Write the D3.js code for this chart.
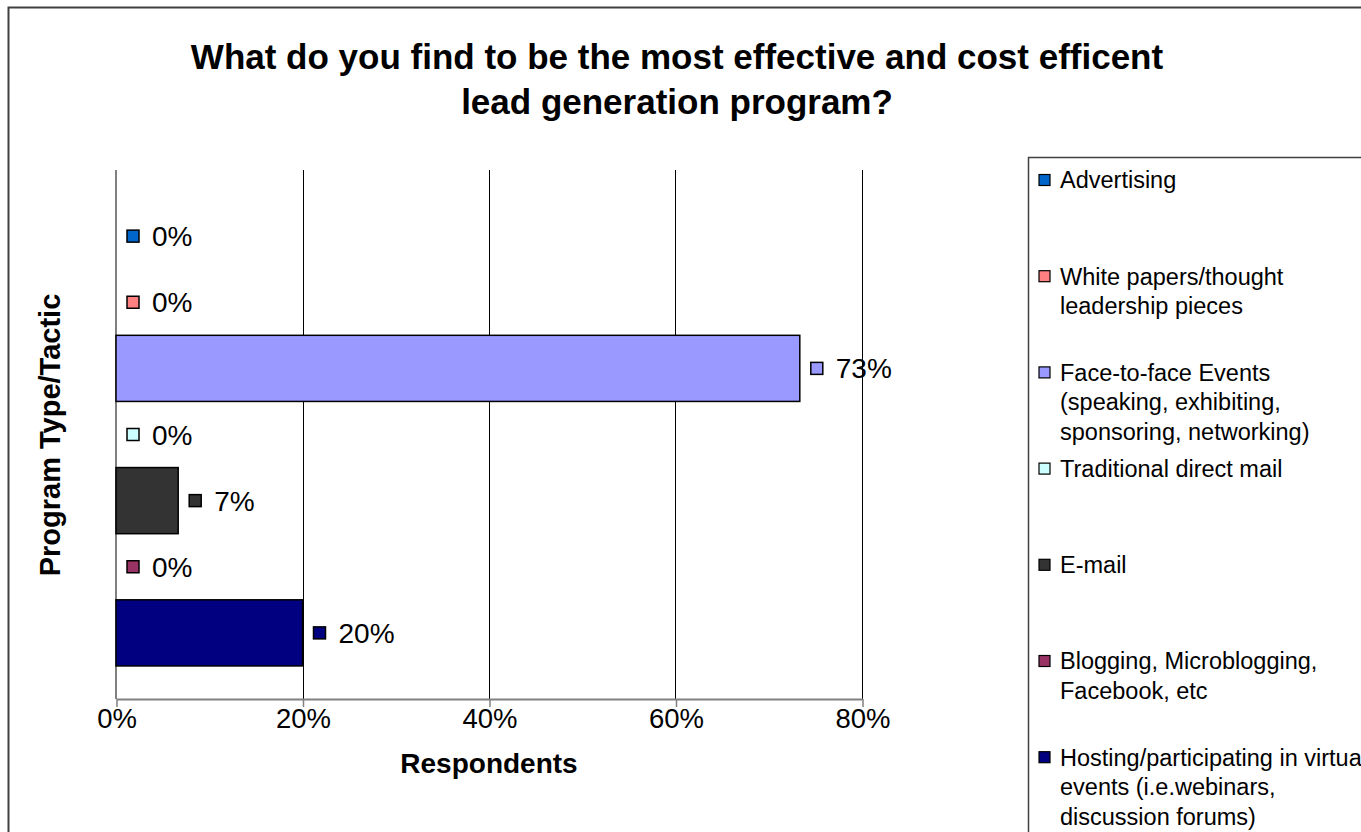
<!DOCTYPE html>
<html>
<head>
<meta charset="utf-8">
<script src="https://cdn.jsdelivr.net/npm/d3@7/dist/d3.min.js"></script>
<style>
html,body{margin:0;padding:0;background:#fff;}
svg{display:block;font-family:Arial,"Liberation Sans",sans-serif;}
</style>
</head>
<body>
<svg id="chart" width="1361" height="832"></svg>
<script>
// ---- data ----
const categories = [
  "Advertising",
  "White papers/thought leadership pieces",
  "Face-to-face Events (speaking, exhibiting, sponsoring, networking)",
  "Traditional direct mail",
  "E-mail",
  "Blogging, Microblogging, Facebook, etc",
  "Hosting/participating in virtual events (i.e.webinars, discussion forums)"
];
const values = [0, 0, 0.7333, 0, 0.0667, 0, 0.2];
const valueLabels = ["0%", "0%", "73%", "0%", "7%", "0%", "20%"];
const colors = ["#0066CC", "#FF8080", "#9999FF", "#CCFFFF", "#333333", "#993366", "#000080"];
const legendLines = [
  ["Advertising"],
  ["White papers/thought", "leadership pieces"],
  ["Face-to-face Events", "(speaking, exhibiting,", "sponsoring, networking)"],
  ["Traditional direct mail"],
  ["E-mail"],
  ["Blogging, Microblogging,", "Facebook, etc"],
  ["Hosting/participating in virtual", "events (i.e.webinars,", "discussion forums)"]
];
const xTicks = [0, 0.2, 0.4, 0.6, 0.8];
const titleLines = ["What do you find to be the most effective and cost efficent", "lead generation program?"];
const xTitle = "Respondents";
const yTitle = "Program Type/Tactic";

// ---- layout ----
const svg = d3.select("#chart");
const plot = {left: 116, right: 862, top: 170, bottom: 699};

// outer border
svg.append("rect").attr("x", 8.5).attr("y", 7.5).attr("width", 1400).attr("height", 900)
  .attr("fill", "none").attr("stroke", "#404040").attr("stroke-width", 2);

const x = d3.scaleLinear().domain([0, 0.8]).range([plot.left, plot.right]);
const step = (plot.bottom - plot.top) / (categories.length + 1);
const y = d3.scaleBand().domain(categories)
  .range([plot.top + step / 2, plot.bottom - step / 2]).paddingInner(0).paddingOuter(0);

// gridlines
svg.append("g").selectAll("line").data(xTicks.filter(d => d > 0)).join("line")
  .attr("x1", d => Math.round(x(d)) + 0.5).attr("x2", d => Math.round(x(d)) + 0.5)
  .attr("y1", plot.top).attr("y2", plot.bottom)
  .attr("stroke", "#000").attr("stroke-width", 1);

// x axis
const xAxis = d3.axisBottom(x).tickValues(xTicks).tickFormat(d3.format(".0%")).tickSizeInner(8).tickSizeOuter(0).tickPadding(1);
const gx = svg.append("g").attr("transform", `translate(0.5,${plot.bottom})`).call(xAxis);
gx.select(".domain").attr("stroke", "#808080").attr("stroke-width", 2);
gx.selectAll(".tick line").attr("stroke", "#808080").attr("stroke-width", 1.5);
gx.selectAll(".tick text").attr("font-size", 27.5).attr("fill", "#000")
  .attr("font-family", "Arial, 'Liberation Sans', sans-serif");

// y axis line
svg.append("line").attr("x1", plot.left).attr("x2", plot.left)
  .attr("y1", plot.top).attr("y2", plot.bottom)
  .attr("stroke", "#808080").attr("stroke-width", 2);

// bars
svg.append("g").selectAll("rect").data(categories).join("rect")
  .attr("x", plot.left)
  .attr("y", d => y(d))
  .attr("width", (d, i) => x(values[i]) - plot.left)
  .attr("height", y.bandwidth())
  .attr("fill", (d, i) => colors[i])
  .attr("stroke", "#000").attr("stroke-width", (d, i) => values[i] > 0 ? 1.5 : 0);

// data labels
const lab = svg.append("g");
categories.forEach((c, i) => {
  const xe = x(values[i]);
  const cy = y(c) + y.bandwidth() / 2;
  lab.append("rect").attr("x", xe + 11).attr("y", cy - 6).attr("width", 12).attr("height", 12)
    .attr("fill", colors[i]).attr("stroke", "#000").attr("stroke-width", 1.5);
  lab.append("text").attr("x", xe + 36).attr("y", cy).attr("dy", "0.36em")
    .attr("font-size", 28).attr("fill", "#000").text(valueLabels[i]);
});

// title
svg.append("g").selectAll("text").data(titleLines).join("text")
  .attr("x", 677).attr("y", (d, i) => 69 + i * 45)
  .attr("text-anchor", "middle").attr("font-weight", "bold").attr("font-size", 35)
  .text(d => d);

// axis titles
svg.append("text").attr("x", 489).attr("y", 773)
  .attr("text-anchor", "middle").attr("font-weight", "bold").attr("font-size", 28).text(xTitle);
svg.append("text").attr("transform", `translate(60,435) rotate(-90)`)
  .attr("text-anchor", "middle").attr("font-weight", "bold").attr("font-size", 29).text(yTitle);

// legend
const lg = svg.append("g");
lg.append("rect").attr("x", 1028.5).attr("y", 157.5).attr("width", 400).attr("height", 800)
  .attr("fill", "#fff").attr("stroke", "#404040").attr("stroke-width", 1.5);
legendLines.forEach((lines, i) => {
  const cy = 180 + i * 96.2;
  lg.append("rect").attr("x", 1039).attr("y", cy - 5.5).attr("width", 11).attr("height", 11)
    .attr("fill", colors[i]).attr("stroke", "#000").attr("stroke-width", 1.2);
  lines.forEach((t, j) => {
    lg.append("text").attr("x", 1060).attr("y", cy + j * 29.5).attr("dy", "0.36em")
      .attr("font-size", 23.5).attr("fill", "#000").text(t);
  });
});
</script>
</body>
</html>
